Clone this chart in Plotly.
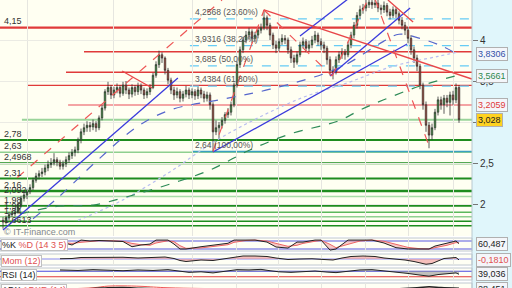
import plotly.graph_objects as go

# ---------------- price data (candle index, price) ----------------
opens = [1.80,1.78,1.83,1.87,1.88,1.90,1.99,2.07,2.11,2.15,
 2.20,2.29,2.34,2.37,2.39,2.44,2.48,2.50,2.54,2.51,
 2.46,2.49,2.54,2.59,2.63,2.66,2.78,2.88,2.93,2.96,
 2.94,2.98,2.93,3.05,3.17,3.37,3.42,3.33,3.39,3.42,
 3.35,3.45,3.39,3.34,3.42,3.37,3.44,3.39,3.33,3.37,
 3.42,3.57,3.70,3.82,3.78,3.63,3.51,3.39,3.33,3.37,
 3.29,3.34,3.39,3.33,3.37,3.32,3.39,3.34,3.29,3.33,
 3.21,2.88,2.93,2.96,3.02,3.09,3.12,3.21,3.45,3.70,
 3.88,4.00,4.06,4.10,4.02,4.06,4.12,4.15,4.27,4.18,
 4.06,3.94,3.90,3.98,4.02,4.00,3.88,3.78,3.73,3.82,
 3.94,3.98,3.90,3.94,4.00,4.06,3.98,3.94,3.90,3.76,
 3.63,3.61,3.76,3.82,3.85,3.82,3.94,4.06,4.18,4.30,
 4.37,4.39,4.43,4.46,4.43,4.45,4.39,4.37,4.42,4.34,
 4.30,4.37,4.32,4.24,4.18,4.12,4.02,3.88,3.78,3.68,
 3.45,3.21,2.96,2.84,2.93,3.12,3.27,3.21,3.29,3.24,
 3.33,3.27,3.42]
closes = [1.78,1.83,1.87,1.88,1.90,1.99,2.07,2.11,2.15,2.20,
 2.29,2.34,2.37,2.39,2.44,2.48,2.50,2.54,2.51,2.46,
 2.49,2.54,2.59,2.63,2.66,2.78,2.88,2.93,2.96,2.94,
 2.98,2.93,3.05,3.17,3.37,3.42,3.33,3.39,3.42,3.35,
 3.45,3.39,3.34,3.42,3.37,3.44,3.39,3.33,3.37,3.42,
 3.57,3.70,3.82,3.78,3.63,3.51,3.39,3.33,3.37,3.29,
 3.34,3.39,3.33,3.37,3.32,3.39,3.34,3.29,3.33,3.21,
 2.88,2.93,2.96,3.02,3.09,3.12,3.21,3.45,3.70,3.88,
 4.00,4.06,4.10,4.02,4.06,4.12,4.15,4.27,4.18,4.06,
 3.94,3.90,3.98,4.02,4.00,3.88,3.78,3.73,3.82,3.94,
 3.98,3.90,3.94,4.00,4.06,3.98,3.94,3.90,3.76,3.63,
 3.61,3.76,3.82,3.85,3.82,3.94,4.06,4.18,4.30,4.37,
 4.39,4.43,4.46,4.43,4.45,4.39,4.37,4.42,4.34,4.30,
 4.37,4.32,4.24,4.18,4.12,4.02,3.88,3.78,3.68,3.45,
 3.21,2.96,2.84,2.93,3.12,3.27,3.21,3.29,3.24,3.33,
 3.27,3.42,3.028]
highs = [1.84,1.86,1.90,1.92,1.95,2.02,2.10,2.16,2.18,2.24,
 2.32,2.38,2.41,2.44,2.48,2.53,2.56,2.62,2.57,2.54,
 2.53,2.58,2.63,2.67,2.70,2.81,2.92,2.98,3.01,3.00,
 3.03,3.01,3.08,3.21,3.40,3.49,3.45,3.43,3.47,3.45,
 3.49,3.50,3.42,3.46,3.45,3.48,3.47,3.42,3.41,3.46,
 3.60,3.74,3.87,3.85,3.80,3.66,3.54,3.43,3.42,3.40,
 3.38,3.44,3.42,3.41,3.40,3.43,3.42,3.38,3.37,3.36,
 3.24,3.02,3.00,3.06,3.12,3.17,3.25,3.48,3.74,3.92,
 4.04,4.11,4.15,4.13,4.10,4.16,4.20,4.37,4.30,4.21,
 4.09,3.99,4.02,4.07,4.06,4.03,3.92,3.82,3.86,3.98,
 4.03,4.01,3.99,4.05,4.11,4.09,4.02,3.98,3.93,3.80,
 3.68,3.80,3.86,3.90,3.89,3.98,4.10,4.22,4.34,4.42,
 4.44,4.49,4.53,4.51,4.52,4.49,4.43,4.47,4.45,4.38,
 4.41,4.40,4.35,4.28,4.22,4.16,4.06,3.92,3.82,3.71,
 3.48,3.25,3.00,2.98,3.16,3.31,3.31,3.33,3.33,3.37,
 3.38,3.47,3.45]
lows = [1.70,1.75,1.80,1.84,1.85,1.88,1.96,2.03,2.06,2.12,
 2.17,2.26,2.30,2.33,2.35,2.40,2.44,2.47,2.46,2.42,
 2.42,2.45,2.50,2.55,2.58,2.62,2.74,2.84,2.88,2.88,
 2.90,2.88,2.90,3.02,3.14,3.33,3.28,3.29,3.35,3.30,
 3.32,3.34,3.28,3.30,3.32,3.33,3.34,3.28,3.29,3.33,
 3.40,3.54,3.66,3.72,3.58,3.46,3.34,3.27,3.29,3.24,
 3.25,3.30,3.28,3.29,3.27,3.28,3.29,3.24,3.25,3.15,
 2.64,2.84,2.78,2.92,2.98,3.05,3.08,3.18,3.42,3.66,
 3.84,3.96,4.01,3.96,3.97,4.02,4.08,4.12,4.12,4.00,
 3.89,3.84,3.86,3.94,3.95,3.83,3.72,3.66,3.70,3.79,
 3.90,3.85,3.86,3.90,3.96,3.93,3.88,3.84,3.70,3.57,
 3.52,3.58,3.72,3.77,3.76,3.79,3.90,4.02,4.14,4.26,
 4.32,4.35,4.39,4.38,4.39,4.34,4.31,4.33,4.29,4.25,
 4.27,4.27,4.19,4.13,4.06,3.96,3.82,3.72,3.62,3.40,
 3.15,2.88,2.68,2.78,2.90,3.08,3.15,3.10,3.18,3.08,
 3.21,3.23,2.99]

# moving averages (candle index, price)
ma_long_x = [5.7, 19, 30, 42.3, 55.7, 69, 82.3, 95.7, 111.7, 119, 126.7, 139, 151.3]
ma_long_y = [1.878, 1.976, 1.988, 2.098, 2.244, 2.415, 2.659, 2.854, 3.012, 3.146, 3.268, 3.439, 3.566]
ma_mid_x = [10, 19, 32, 45, 56, 72, 89, 112, 126.7, 132, 139, 146, 151.3]
ma_mid_y = [1.82, 2.10, 2.55, 2.95, 3.15, 3.27, 3.40, 3.66, 3.98, 4.07, 4.02, 3.93, 3.831]
ma_faint_x = [25, 40, 56, 70, 85, 100, 115, 130, 145, 151.3]
ma_faint_y = [1.80, 2.05, 2.40, 2.75, 3.05, 3.30, 3.48, 3.68, 3.80, 3.85]

# horizontal levels
red_levels = [4.15, 3.857, 3.606, 3.447]
red_starts = [-1, 27, 21, 8.3]
red_widths = [2.2, 1.4, 1.4, 1.4]
pink_level, pink_start = 3.2059, 21.7
lgreen_level, lgreen_start = 3.028, 6.3
green_levels = [2.78, 2.63, 2.4968, 2.31, 2.16, 2.092, 1.98, 1.90, 1.845, 1.79, 1.735]
green_colors = ['#1e8c1e', '#8fd08f', '#1e8c1e', '#1e8c1e', '#1e8c1e', '#a8dca8',
                '#1e8c1e', '#5cb85c', '#8fd08f', '#1e8c1e', '#1e8c1e']
green_widths = [2, 1.5, 2, 2, 2.5, 1.5, 2, 1.5, 1.5, 1.5, 1.5]
green_labels = ['2,78', '2,63', '2,4968', '2,31', '2,16', '2,092', '1,98', '1,90', '1,84', '', '1,6613']

fib_levels = [4.2568, 3.9316, 3.685, 3.4384]
fib_labels = ['4,2568 (23,60%)', '3,9316 (38,20%)', '3,685 (50,00%)', '3,4384 (61,80%)']
fib_start = 62.3
fib_low, fib_low_label = 2.64, '2,64 (100,00%)'

# trend lines: (x0, y0, x1, y1) in candle index / price
blue_lines = [(0, 1.683, 58.3, 3.537), (70, 2.634, 134.7, 3.951),
              (109, 3.561, 135.7, 4.39), (99, 4.05, 116.3, 4.537)]
red_lines = [(87, 4.366, 156.3, 3.524), (128.3, 4.488, 136.7, 4.22),
             (39.7, 3.622, 49.7, 3.415)]
red_dash_lines = [(4.7, 2.32, 73, 4.488), (70, 2.64, 87, 4.366), (87, 4.366, 109.7, 3.56),
                  (109.7, 3.56, 121.7, 4.50), (124, 4.50, 142.3, 2.68)]

grid_x = [8.3, 36.7, 63.3, 77.7, 91.7, 106.3, 120.7, 135, 150]
price_ticks = [2, 2.5, 3, 3.5, 4, 4.5]
price_tick_text = ['2', '2,5', '3', '3,5', '4', '4,5']

# indicators
k_x = [19,23,26,29,32,36,40,43,46,49,51,55,57,59,61,66,70,75,77,81,84,88,91,95,98,100,
       104,106,109,111,115,119,123,127,131,135,139,142,144,148,151,152]
k_val = [75,50,87,80,84,80,76,37,50,57,87,87,57,20,20,37,50,63,87,87,87,72,35,27,72,72,
         87,87,12,20,87,87,87,65,30,20,20,20,42,65,80,60.5]
d_val = [70,62,70,78,82,82,78,62,52,48,65,82,75,45,25,28,40,52,70,84,87,80,62,40,48,62,
         78,85,55,30,55,80,87,78,55,32,22,20,30,48,68,66]
mom_x = [19,23,26,30,35,40,45,50,54,57,59,61,63,66,70,73,77,80,84,88,91,95,99,103,107,110,
         113,116,120,124,127,131,134,137,139,141,143,145,147,149,151,152]
mom_val = [0.05,0.1,0.3,0.35,0.4,0.35,0.2,0.3,0.4,0.1,-0.3,-0.5,-0.4,-0.2,-0.3,0.0,0.3,0.6,
           0.6,0.5,0.2,-0.1,0.0,0.05,-0.1,-0.2,0.2,0.5,0.6,0.5,0.2,0.0,-0.2,-0.5,-0.8,-1.05,
           -0.9,-0.4,0.1,0.2,0.3,-0.181]
rsi_x = [19,25,30,35,40,45,50,55,59,62,66,70,74,78,82,86,89,92,96,100,104,108,111,115,119,
         123,127,131,135,139,142,145,148,151,152]
rsi_val = [55,53,56,54,52,55,53,56,49,46,48,44,50,56,55,57,52,48,46,49,51,47,45,50,55,56,52,
           47,42,36,32,38,41,44,39]
adx_x = [20, 30, 35, 40, 46, 55, 80, 120, 138, 142, 146, 152]
adxr_val = [25, 30, 37, 38, 36, 30, 25, 22, 26, 28, 27, 26]
adx_val = [24, 27, 30, 31, 28, 24, 22, 20, 30, 34, 31, 28]

XMIN, XMAX = -1.0, 156.33
YMIN, YMAX = 1.6098, 4.4878
XD = 472 / 512
FONT = 'Liberation Sans, Arial'

fig = go.Figure()
fig.add_trace(go.Scatter(x=ma_faint_x, y=ma_faint_y, mode='lines', line=dict(color='#b8bdf0', width=1.2, dash='dot'),
                         line_shape='spline', hoverinfo='skip'))
fig.add_trace(go.Scatter(x=ma_mid_x, y=ma_mid_y, mode='lines', line=dict(color='#5566cc', width=1.2, dash='dash'),
                         line_shape='spline', hoverinfo='skip'))
fig.add_trace(go.Scatter(x=ma_long_x, y=ma_long_y, mode='lines', line=dict(color='#2e8b57', width=1.2, dash='dash'),
                         line_shape='spline', hoverinfo='skip'))
for (x0, y0, x1, y1) in blue_lines:
    fig.add_trace(go.Scatter(x=[x0, x1], y=[y0, y1], mode='lines', line=dict(color='#3b3bdc', width=1.3), hoverinfo='skip'))
for (x0, y0, x1, y1) in red_lines:
    fig.add_trace(go.Scatter(x=[x0, x1], y=[y0, y1], mode='lines', line=dict(color='#e8474a', width=1.3), hoverinfo='skip'))
for (x0, y0, x1, y1) in red_dash_lines:
    fig.add_trace(go.Scatter(x=[x0, x1], y=[y0, y1], mode='lines', line=dict(color='#ee5555', width=1.2, dash='dash'), hoverinfo='skip'))

fig.add_trace(go.Candlestick(x=list(range(len(closes))), open=opens, high=highs, low=lows, close=closes,
    increasing=dict(fillcolor='#36b336', line=dict(color='#333333', width=0.8)),
    decreasing=dict(fillcolor='#d2452d', line=dict(color='#333333', width=0.8)),
    whiskerwidth=0, hoverinfo='skip'))

# indicators
fig.add_trace(go.Scatter(x=k_x, y=d_val, xaxis='x2', yaxis='y2', mode='lines', line=dict(color='#ee6666', width=1)))
fig.add_trace(go.Scatter(x=k_x, y=k_val, xaxis='x2', yaxis='y2', mode='lines', line=dict(color='#222222', width=1),
                         fill='tonexty', fillcolor='rgba(240,150,150,0.5)'))
fig.add_trace(go.Scatter(x=mom_x, y=[0]*len(mom_x), xaxis='x3', yaxis='y3', mode='lines', line=dict(color='rgba(0,0,0,0)', width=0)))
fig.add_trace(go.Scatter(x=mom_x, y=mom_val, xaxis='x3', yaxis='y3', mode='lines', line=dict(color='#222222', width=1),
                         fill='tonexty', fillcolor='rgba(240,150,150,0.6)'))
fig.add_trace(go.Scatter(x=rsi_x, y=[50]*len(rsi_x), xaxis='x4', yaxis='y4', mode='lines', line=dict(color='rgba(0,0,0,0)', width=0)))
fig.add_trace(go.Scatter(x=rsi_x, y=rsi_val, xaxis='x4', yaxis='y4', mode='lines', line=dict(color='#222222', width=1),
                         fill='tonexty', fillcolor='rgba(150,150,150,0.6)'))
fig.add_trace(go.Scatter(x=adx_x, y=adxr_val, xaxis='x5', yaxis='y5', mode='lines', line=dict(color='#ee5555', width=1), line_shape='spline'))
fig.add_trace(go.Scatter(x=adx_x, y=adx_val, xaxis='x5', yaxis='y5', mode='lines', line=dict(color='#222222', width=1.5), line_shape='spline'))

shapes = []
annotations = []
shapes.append(dict(type='rect', xref='paper', yref='paper', x0=XD, x1=1, y0=0, y1=1,
                   fillcolor='#e0f6fb', line=dict(width=0), layer='below'))
shapes.append(dict(type='line', xref='paper', yref='paper', x0=XD, x1=XD, y0=0, y1=1,
                   line=dict(color='#b8c8d0', width=1)))
for lv, st, w in zip(red_levels, red_starts, red_widths):
    shapes.append(dict(type='line', xref='x', yref='y', x0=st, x1=XMAX, y0=lv, y1=lv,
                       line=dict(color='#e03a3a', width=w), layer='below'))
shapes.append(dict(type='line', xref='x', yref='y', x0=pink_start, x1=XMAX, y0=pink_level, y1=pink_level,
                   line=dict(color='#f4a4a4', width=2), layer='below'))
shapes.append(dict(type='line', xref='x', yref='y', x0=lgreen_start, x1=XMAX, y0=lgreen_level, y1=lgreen_level,
                   line=dict(color='#9ad49a', width=2), layer='below'))
for lv, c, w in zip(green_levels, green_colors, green_widths):
    shapes.append(dict(type='line', xref='x', yref='y', x0=XMIN, x1=XMAX, y0=lv, y1=lv,
                       line=dict(color=c, width=w), layer='below'))
for lv in fib_levels:
    shapes.append(dict(type='line', xref='x', yref='y', x0=fib_start, x1=XMAX, y0=lv, y1=lv,
                       line=dict(color='#66ccf5', width=1.3, dash='dash'), layer='below'))
shapes.append(dict(type='line', xref='x', yref='y', x0=fib_start + 1, x1=XMAX, y0=fib_low, y1=fib_low,
                   line=dict(color='#3aa0c0', width=1.3), layer='below'))

lab_font = dict(family=FONT, size=9, color='#333333')
annotations.append(dict(xref='paper', yref='y', x=0.004, y=4.15, text='4,15', showarrow=False,
                        xanchor='left', yanchor='bottom', font=lab_font))
for lv, t in zip(green_levels, green_labels):
    if t:
        annotations.append(dict(xref='paper', yref='y', x=0.004, y=lv, text=t, showarrow=False,
                                xanchor='left', yanchor='bottom', font=lab_font, yshift=-1))
fib_font = dict(family=FONT, size=8.5, color='#555555')
for lv, t in zip(fib_levels, fib_labels):
    annotations.append(dict(xref='x', yref='y', x=fib_start + 1, y=lv, text=t, showarrow=False,
                            xanchor='left', yanchor='bottom', font=fib_font))
annotations.append(dict(xref='x', yref='y', x=fib_start + 1, y=fib_low, text=fib_low_label, showarrow=False,
                        xanchor='left', yanchor='bottom', font=fib_font))
annotations.append(dict(xref='paper', yref='paper', x=0.004, y=1 - 232 / 288, text='© IT-Finance.com', showarrow=False,
                        xanchor='left', yanchor='middle', font=dict(family=FONT, size=9, color='#7f8890')))

tags = [(3.8306, '3,8306', '#3350a8', '#f4f6fa'), (3.5661, '3,5661', '#2f8a4f', '#f4f6fa'),
        (3.2059, '3,2059', '#e03a3a', '#f4f6fa'), (3.028, '3,028', '#222222', '#ffd21f')]
for v, t, c, bg in tags:
    annotations.append(dict(xref='paper', yref='y', x=XD + 0.008, y=v, text=t, showarrow=False,
                            xanchor='left', yanchor='middle', bgcolor=bg, bordercolor='#b0b0b0', borderwidth=1,
                            borderpad=1, font=dict(family=FONT, size=9, color=c)))

panels = [(238, 251, '<span style="color:#222">%K</span> <span style="color:#e05050">%D (14 3 5)</span>', '60,487', '#222'),
          (254, 265, '<span style="color:#e05050">Mom (12)</span>', '-0,1810', '#e05050'),
          (268, 280, '<span style="color:#222">RSI (14)</span>', '39,036', '#222'),
          (283, 296, '<span style="color:#222">ADX</span> <span style="color:#e05050">ADXR (14)</span>', '28,451', '#222')]
for top, bot, lab, val, vc in panels:
    shapes.append(dict(type='rect', xref='paper', yref='paper', x0=0, x1=XD, y0=1 - bot / 288, y1=1 - top / 288,
                       fillcolor='#fffff4', line=dict(color='#c0c8d0', width=1), layer='below'))
    annotations.append(dict(xref='paper', yref='paper', x=0.002, y=1 - (top + 1) / 288, text=lab, showarrow=False,
                            xanchor='left', yanchor='top', bgcolor='#ffffff', bordercolor='#c0c0c0', borderwidth=1,
                            borderpad=0, font=dict(family=FONT, size=9)))
    annotations.append(dict(xref='paper', yref='paper', x=XD + 0.008, y=1 - (top + 6) / 288, text=val, showarrow=False,
                            xanchor='left', yanchor='middle', bgcolor='#f4f6fa', bordercolor='#b0b0b0', borderwidth=1,
                            borderpad=1, font=dict(family=FONT, size=9, color=vc)))

ind_lines = [('y2', 80, '#5a5ae0'), ('y2', 20, '#5a5ae0'), ('y3', 0, '#8a8af0'),
             ('y4', 50, '#4a4ae0'), ('y4', 30, '#e03a3a')]
for yr, v, c in ind_lines:
    shapes.append(dict(type='line', xref='x', yref=yr, x0=XMIN, x1=XMAX, y0=v, y1=v,
                       line=dict(color=c, width=1.2), layer='below'))

main_bottom = 1 - 236 / 288
ax_common = dict(range=[XMIN, XMAX], domain=[0, XD], showticklabels=False, zeroline=False,
                 tickvals=grid_x, showgrid=True, gridcolor='#e6e6e0', gridwidth=1, ticks='', fixedrange=True)
fig.update_layout(
    width=512, height=288, margin=dict(l=0, r=0, t=0, b=0),
    paper_bgcolor='#ffffff', plot_bgcolor='#fffff2', showlegend=False,
    shapes=shapes, annotations=annotations,
    xaxis=dict(**ax_common, anchor='y', rangeslider=dict(visible=False)),
    yaxis=dict(domain=[main_bottom, 1], range=[YMIN, YMAX], side='right', tickvals=price_ticks,
               ticktext=price_tick_text, ticks='outside', ticklen=5, tickcolor='#777777',
               tickfont=dict(family=FONT, size=10, color='#333333'),
               showgrid=True, gridcolor='#ebebe4', zeroline=False, anchor='x'),
    xaxis2=dict(**ax_common, anchor='y2', matches='x'),
    xaxis3=dict(**ax_common, anchor='y3', matches='x'),
    xaxis4=dict(**ax_common, anchor='y4', matches='x'),
    xaxis5=dict(**ax_common, anchor='y5', matches='x'),
    yaxis2=dict(domain=[1 - 251 / 288, 1 - 238 / 288], range=[5, 102.5], showticklabels=False, showgrid=False, zeroline=False, anchor='x2'),
    yaxis3=dict(domain=[1 - 265 / 288, 1 - 254 / 288], range=[-1.2, 1.0], showticklabels=False, showgrid=False, zeroline=False, anchor='x3'),
    yaxis4=dict(domain=[1 - 280 / 288, 1 - 268 / 288], range=[18, 62], showticklabels=False, showgrid=False, zeroline=False, anchor='x4'),
    yaxis5=dict(domain=[0, 1 - 283 / 288], range=[29, 50], showticklabels=False, showgrid=False, zeroline=False, anchor='x5'),
)
fig.write_html('out.html')
